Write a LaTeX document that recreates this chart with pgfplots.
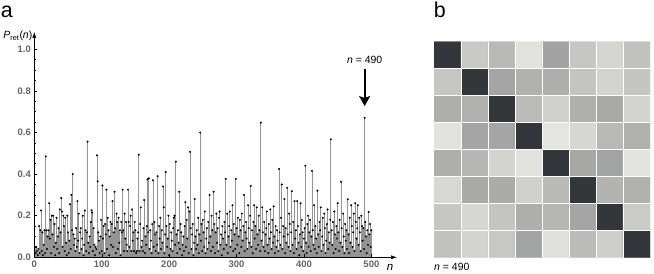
\documentclass[border=0pt]{standalone}
\usepackage{pgfplots}
\pgfplotsset{compat=1.18}
\usepackage{pgfplotstable}
\usepackage{fontspec}
\setmainfont{Liberation Sans}
\usetikzlibrary{arrows.meta}
\definecolor{tickgray}{RGB}{100,100,100}
\pgfplotstableread{
x y c
1 1 1.00
2 1 0.157
3 1 0.247
4 1 0.022
5 1 0.382
6 1 0.174
7 1 0.096
8 1 0.202
1 2 0.174
2 2 0.99
3 2 0.365
4 2 0.292
5 2 0.309
6 2 0.185
7 2 0.101
8 2 0.180
1 3 0.309
2 3 0.292
3 3 0.99
4 3 0.236
5 3 0.118
6 3 0.303
7 3 0.343
8 3 0.101
1 4 0.017
2 4 0.365
3 4 0.365
4 4 1.00
5 4 0.006
6 4 0.084
7 4 0.247
8 4 0.292
1 5 0.309
2 5 0.264
3 5 0.101
4 5 0.017
5 5 1.00
6 5 0.348
7 5 0.371
8 5 0.011
1 6 0.079
2 6 0.337
3 6 0.326
4 6 0.118
5 6 0.247
6 6 0.99
7 6 0.281
8 6 0.292
1 7 0.174
2 7 0.084
3 7 0.185
4 7 0.309
5 7 0.264
6 7 0.365
7 7 0.99
8 7 0.152
1 8 0.202
2 8 0.101
3 8 0.169
4 8 0.371
5 8 0.028
6 8 0.236
7 8 0.129
8 8 1.00
}\matdata
\begin{document}
\begin{tikzpicture}
\path[use as bounding box] (0bp,0bp) rectangle (654bp,274bp);
\begin{axis}[
  scale only axis, width=362.7bp, height=225.3bp,
  at={(34.3bp,16.7bp)}, anchor=south west,
  xmin=0, xmax=538, ymin=0, ymax=1.083,
  axis lines=left,
  axis line style={line width=0.6bp, -{Latex[length=6bp,width=4bp]}},
  xtick={0,100,200,300,400,500}, ytick={0,0.2,0.4,0.6,0.8,1.0},
  minor y tick num=3,
  tick align=inside, major tick length=3bp, minor tick length=1.8bp,
  tick style={black, line width=0.4bp},
  yticklabel style={/pgf/number format/fixed, /pgf/number format/fixed zerofill, /pgf/number format/precision=1},
  ticklabel style={font=\fontsize{9.5}{10}\selectfont\bfseries, text=tickgray},
  /pgf/number format/assume math mode=true,
  clip=false,
]
\addplot[ycomb, draw=black, draw opacity=0.42, line width=0.9bp,
  mark=*, mark size=0.9bp, mark options={fill=black, draw=black, draw opacity=1, fill opacity=1, line width=0.2bp}] coordinates {
(1,0.05)(2,0.02)(3,0.05)(4,0.03)(5,0.01)(6,0.04)(7,0.15)(8,0.02)(9,0.13)(10,0.225)
(11,0.03)(12,0.12)(13,0.01)(14,0.06)(15,0.13)(16,0.02)(17,0.485)(18,0.13)(19,0.04)(20,0.10)
(21,0.13)(22,0.26)(23,0.09)(24,0.18)(25,0.02)(26,0.20)(27,0.11)(28,0.20)(29,0.05)(30,0.16)
(31,0.01)(32,0.07)(33,0.19)(34,0.04)(35,0.10)(36,0.14)(37,0.02)(38,0.23)(39,0.12)(40,0.285)
(41,0.22)(42,0.05)(43,0.20)(44,0.15)(45,0.03)(46,0.19)(47,0.07)(48,0.01)(49,0.20)(50,0.12)
(51,0.02)(52,0.08)(53,0.255)(54,0.04)(55,0.30)(56,0.13)(57,0.40)(58,0.11)(59,0.06)(60,0.09)
(61,0.03)(62,0.14)(63,0.05)(64,0.27)(65,0.08)(66,0.21)(67,0.02)(68,0.12)(69,0.14)(70,0.04)
(71,0.09)(72,0.20)(73,0.01)(74,0.06)(75,0.225)(76,0.13)(77,0.03)(78,0.12)(79,0.556)(80,0.07)
(81,0.02)(82,0.10)(83,0.05)(84,0.17)(85,0.226)(86,0.215)(87,0.03)(88,0.14)(89,0.06)(90,0.01)
(91,0.05)(92,0.04)(93,0.49)(94,0.365)(95,0.12)(96,0.08)(97,0.02)(98,0.10)(99,0.18)(100,0.03)
(101,0.345)(102,0.09)(103,0.15)(104,0.02)(105,0.16)(106,0.11)(107,0.325)(108,0.04)(109,0.19)(110,0.13)
(111,0.01)(112,0.10)(113,0.17)(114,0.06)(115,0.16)(116,0.27)(117,0.05)(118,0.12)(119,0.315)(120,0.14)
(121,0.02)(122,0.21)(123,0.17)(124,0.04)(125,0.19)(126,0.07)(127,0.13)(128,0.01)(129,0.17)(130,0.12)
(131,0.325)(132,0.13)(133,0.03)(134,0.21)(135,0.09)(136,0.17)(137,0.06)(138,0.03)(139,0.325)(140,0.17)
(141,0.05)(142,0.15)(143,0.20)(144,0.03)(145,0.23)(146,0.08)(147,0.12)(148,0.03)(149,0.17)(150,0.13)
(151,0.02)(152,0.03)(153,0.09)(154,0.12)(155,0.493)(156,0.03)(157,0.16)(158,0.24)(159,0.05)(160,0.08)
(161,0.03)(162,0.14)(163,0.275)(164,0.02)(165,0.10)(166,0.06)(167,0.15)(168,0.375)(169,0.12)(170,0.38)
(171,0.04)(172,0.13)(173,0.08)(174,0.02)(175,0.16)(176,0.37)(177,0.05)(178,0.17)(179,0.11)(180,0.03)
(181,0.12)(182,0.06)(183,0.39)(184,0.02)(185,0.15)(186,0.09)(187,0.19)(188,0.04)(189,0.13)(190,0.07)
(191,0.34)(192,0.24)(193,0.02)(194,0.11)(195,0.41)(196,0.15)(197,0.05)(198,0.09)(199,0.20)(200,0.01)
(201,0.16)(202,0.04)(203,0.12)(204,0.08)(205,0.03)(206,0.14)(207,0.19)(208,0.20)(209,0.06)(210,0.46)
(211,0.11)(212,0.02)(213,0.13)(214,0.07)(215,0.315)(216,0.04)(217,0.16)(218,0.12)(219,0.01)(220,0.06)
(221,0.10)(222,0.03)(223,0.15)(224,0.265)(225,0.05)(226,0.18)(227,0.09)(228,0.24)(229,0.02)(230,0.22)
(231,0.507)(232,0.14)(233,0.04)(234,0.11)(235,0.16)(236,0.01)(237,0.07)(238,0.28)(239,0.10)(240,0.04)
(241,0.13)(242,0.06)(243,0.19)(244,0.02)(245,0.11)(246,0.60)(247,0.08)(248,0.16)(249,0.03)(250,0.18)
(251,0.12)(252,0.05)(253,0.22)(254,0.02)(255,0.09)(256,0.14)(257,0.04)(258,0.17)(259,0.07)(260,0.30)
(261,0.10)(262,0.03)(263,0.20)(264,0.13)(265,0.05)(266,0.315)(267,0.16)(268,0.02)(269,0.12)(270,0.21)
(271,0.07)(272,0.14)(273,0.03)(274,0.19)(275,0.22)(276,0.06)(277,0.11)(278,0.01)(279,0.15)(280,0.09)
(281,0.04)(282,0.17)(283,0.12)(284,0.377)(285,0.06)(286,0.21)(287,0.02)(288,0.10)(289,0.15)(290,0.22)
(291,0.05)(292,0.13)(293,0.08)(294,0.25)(295,0.03)(296,0.16)(297,0.11)(298,0.04)(299,0.377)(300,0.14)
(301,0.06)(302,0.19)(303,0.10)(304,0.02)(305,0.18)(306,0.13)(307,0.05)(308,0.21)(309,0.08)(310,0.15)
(311,0.30)(312,0.03)(313,0.12)(314,0.17)(315,0.09)(316,0.04)(317,0.25)(318,0.14)(319,0.07)(320,0.20)
(321,0.343)(322,0.05)(323,0.13)(324,0.02)(325,0.17)(326,0.25)(327,0.09)(328,0.15)(329,0.04)(330,0.24)
(331,0.11)(332,0.06)(333,0.20)(334,0.13)(335,0.03)(336,0.647)(337,0.08)(338,0.24)(339,0.12)(340,0.05)
(341,0.17)(342,0.03)(343,0.11)(344,0.14)(345,0.22)(346,0.06)(347,0.02)(348,0.16)(349,0.09)(350,0.23)
(351,0.12)(352,0.04)(353,0.18)(354,0.07)(355,0.245)(356,0.10)(357,0.02)(358,0.15)(359,0.05)(360,0.13)
(361,0.08)(362,0.03)(363,0.425)(364,0.12)(365,0.06)(366,0.19)(367,0.35)(368,0.04)(369,0.15)(370,0.10)
(371,0.28)(372,0.02)(373,0.14)(374,0.07)(375,0.334)(376,0.11)(377,0.05)(378,0.21)(379,0.16)(380,0.03)
(381,0.12)(382,0.318)(383,0.06)(384,0.17)(385,0.02)(386,0.27)(387,0.09)(388,0.13)(389,0.04)(390,0.27)
(391,0.15)(392,0.07)(393,0.01)(394,0.11)(395,0.26)(396,0.05)(397,0.18)(398,0.12)(399,0.03)(400,0.09)
(401,0.14)(402,0.44)(403,0.07)(404,0.02)(405,0.16)(406,0.20)(407,0.05)(408,0.12)(409,0.18)(410,0.03)
(411,0.10)(412,0.415)(413,0.13)(414,0.06)(415,0.25)(416,0.04)(417,0.15)(418,0.09)(419,0.02)(420,0.32)
(421,0.11)(422,0.05)(423,0.17)(424,0.13)(425,0.24)(426,0.03)(427,0.10)(428,0.19)(429,0.06)(430,0.21)
(431,0.14)(432,0.02)(433,0.08)(434,0.16)(435,0.23)(436,0.04)(437,0.12)(438,0.07)(439,0.18)(440,0.567)
(441,0.13)(442,0.06)(443,0.17)(444,0.02)(445,0.22)(446,0.11)(447,0.04)(448,0.15)(449,0.09)(450,0.26)
(451,0.12)(452,0.03)(453,0.18)(454,0.07)(455,0.363)(456,0.14)(457,0.05)(458,0.21)(459,0.10)(460,0.02)
(461,0.16)(462,0.08)(463,0.13)(464,0.04)(465,0.279)(466,0.11)(467,0.02)(468,0.19)(469,0.07)(470,0.25)
(471,0.15)(472,0.05)(473,0.12)(474,0.21)(475,0.03)(476,0.26)(477,0.17)(478,0.09)(479,0.14)(480,0.25)
(481,0.06)(482,0.19)(483,0.12)(484,0.03)(485,0.20)(486,0.15)(487,0.08)(488,0.14)(489,0.04)(490,0.67)
(491,0.17)(492,0.10)(493,0.02)(494,0.13)(495,0.06)(496,0.218)(497,0.11)(498,0.16)(499,0.05)(500,0.13)
};
\draw[line width=2.2bp, -{Stealth[length=10bp,width=11bp,inset=2bp]}] (axis cs:490,0.905) -- (axis cs:490,0.727);
\node[font=\fontsize{10.5}{12}\selectfont] at (axis cs:490,0.948) {\textit{n} = 490};
\end{axis}
\node[anchor=base east, inner sep=0pt, font=\fontsize{10.5}{12}\selectfont] at (32.5bp,235.5bp) {\textit{P}\textsubscript{ret}(\textit{n})};
\node[inner sep=0pt, font=\fontsize{11.5}{12}\selectfont\itshape] at (390bp,7bp) {n};
\node[anchor=base west, inner sep=0pt, font=\fontsize{21.5}{24}\selectfont] at (0.8bp,256.7bp) {a};
\node[anchor=base west, inner sep=0pt, font=\fontsize{21.5}{24}\selectfont] at (433.6bp,256.7bp) {b};
\begin{axis}[
  scale only axis, width=216bp, height=216bp,
  at={(434bp,16.3bp)}, anchor=south west,
  xmin=0.5, xmax=8.5, ymin=0.5, ymax=8.5, y dir=reverse,
  axis line style={draw=none},
  xtick={1.5,2.5,3.5,4.5,5.5,6.5,7.5}, ytick={1.5,2.5,3.5,4.5,5.5,6.5,7.5},
  xticklabels={}, yticklabels={},
  major tick length=0pt,
  grid=major, grid style={white, line width=1bp},
  axis on top,
  colormap={mygray}{rgb255=(229,230,225) rgb255=(51,54,58)},
  point meta min=0, point meta max=1,
]
\addplot[matrix plot*, mesh/cols=8, point meta=explicit] table[x=x, y=y, meta=c] {\matdata};
\end{axis}
\node[anchor=west, inner sep=0pt, font=\fontsize{10.5}{12}\selectfont] at (434bp,7.3bp) {\textit{n} = 490};
\end{tikzpicture}
\end{document}
